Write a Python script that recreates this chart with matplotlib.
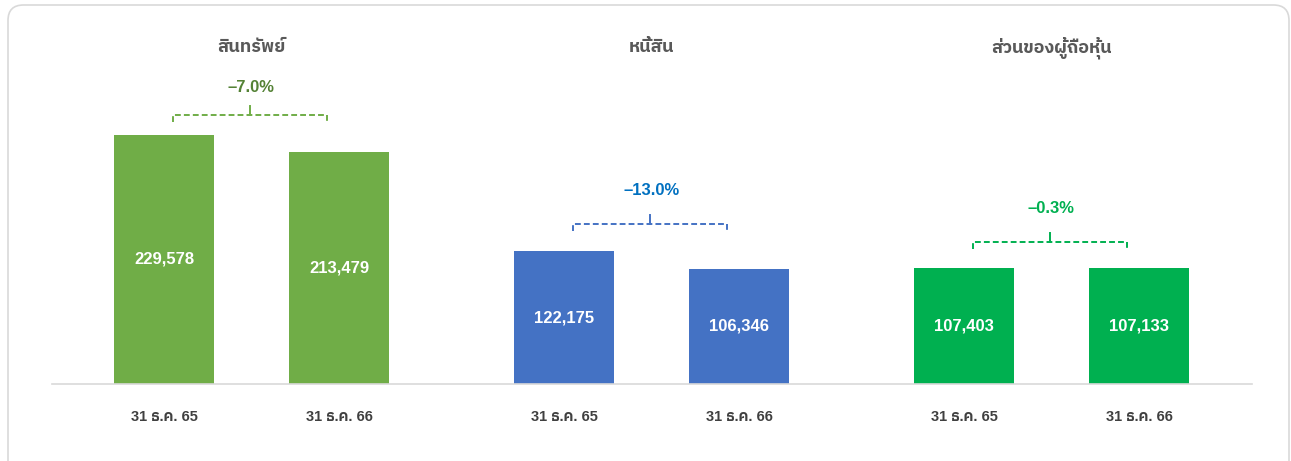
import matplotlib
matplotlib.use("Agg")
import matplotlib.pyplot as plt
from matplotlib.patches import FancyBboxPatch
from matplotlib.transforms import blended_transform_factory

# DATA
GROUPS = ["สินทรัพย์", "หนี้สิน", "ส่วนของผู้ถือหุ้น"]
PERIODS = ["31 ธ.ค. 65", "31 ธ.ค. 66"]
VALUES_65 = [229578, 122175, 107403]
VALUES_66 = [213479, 106346, 107133]
CHANGE_LABELS = ["–7.0%", "–13.0%", "–0.3%"]

# GUI
FONT = ["Liberation Sans", "IBM Plex Sans Thai"]
BAR_COLORS = ["#70AD47", "#4472C4", "#00B050"]
CHANGE_COLORS = ["#548235", "#0070C0", "#00B050"]
TITLE_COLOR = "#595959"
LABEL_COLOR = "#404040"
GRID_COLOR = "#D9D9D9"

FIG_W, FIG_H = 1291, 461
DPI = 100
PAIR_GAP = 1.75     # distance between the two bars of a group
GROUP_GAP = 4.0     # distance between groups
BAR_WIDTH = 1.0
# pixel offsets above the highest bar of each group: bracket / label
BRACKET_PX = [20, 27, 26]
LABEL_PX = [48, 61, 59]


def draw_bracket(ax, x0, x1, y, px, color):
    """dashed bracket between two bars"""
    mid = (x0 + x1) / 2
    kw = dict(color=color, lw=1.4, ls=(0, (3, 1.6)), solid_capstyle="butt")
    ax.plot([x0, x0, x1, x1], [y - 7 * px, y, y, y - 7 * px], **kw)
    ax.plot([mid, mid], [y, y + 9 * px], color=color, lw=1.4)


def main():
    fig = plt.figure(figsize=(FIG_W / DPI, FIG_H / DPI), dpi=DPI)

    # rounded frame round the whole chart
    frame = FancyBboxPatch((8 / FIG_W, -0.1), 1281 / FIG_W, 1.1 - 5 / FIG_H,
                           boxstyle="round,pad=0,rounding_size=0.012",
                           transform=fig.transFigure, fill=False,
                           edgecolor="#D9D9D9", lw=1.2, mutation_aspect=FIG_W / FIG_H)
    fig.patches.append(frame)

    ax_h = 364
    ax = fig.add_axes([52 / FIG_W, 77 / FIG_H, 1200 / FIG_W, ax_h / FIG_H])
    ymax = 229578 * ax_h / 249.0
    px = ymax / ax_h  # data units per pixel
    ax.set_ylim(0, ymax)
    ax.set_xlim(-1.12, 10.88)

    title_tr = blended_transform_factory(ax.transData, fig.transFigure)

    for i, group in enumerate(GROUPS):
        x0 = i * GROUP_GAP
        x1 = x0 + PAIR_GAP
        vals = [VALUES_65[i], VALUES_66[i]]
        ax.bar([x0, x1], vals, width=BAR_WIDTH, color=BAR_COLORS[i], zorder=2)
        for x, v in zip([x0, x1], vals):
            ax.text(x, v / 2, f"{v:,}", ha="center", va="center", color="white",
                    fontsize=12, fontweight="bold", family=FONT)
        for x, p in zip([x0, x1], PERIODS):
            ax.annotate(p, (x, 0), xytext=(0, -24), textcoords="offset points",
                        ha="center", va="center", color=LABEL_COLOR,
                        fontsize=10.5, fontweight="bold", family=FONT)

        top = max(vals)
        y_br = top + BRACKET_PX[i] * px
        draw_bracket(ax, x0 + 0.09, x1 - 0.12, y_br, px, BAR_COLORS[i])
        ax.text((x0 + x1) / 2, top + LABEL_PX[i] * px, CHANGE_LABELS[i],
                ha="center", va="center", color=CHANGE_COLORS[i],
                fontsize=12, fontweight="bold", family=FONT)

        ax.text((x0 + x1) / 2, 1 - 48 / FIG_H, group, transform=title_tr,
                ha="center", va="center", color=TITLE_COLOR,
                fontsize=13, fontweight="bold", family=FONT)

    for s in ["top", "right", "left"]:
        ax.spines[s].set_visible(False)
    ax.spines["bottom"].set_color(GRID_COLOR)
    ax.spines["bottom"].set_linewidth(1.2)
    ax.set_xticks([])
    ax.set_yticks([])
    ax.patch.set_alpha(0)

    fig.savefig("out.png", dpi=DPI)


if __name__ == "__main__":
    main()
